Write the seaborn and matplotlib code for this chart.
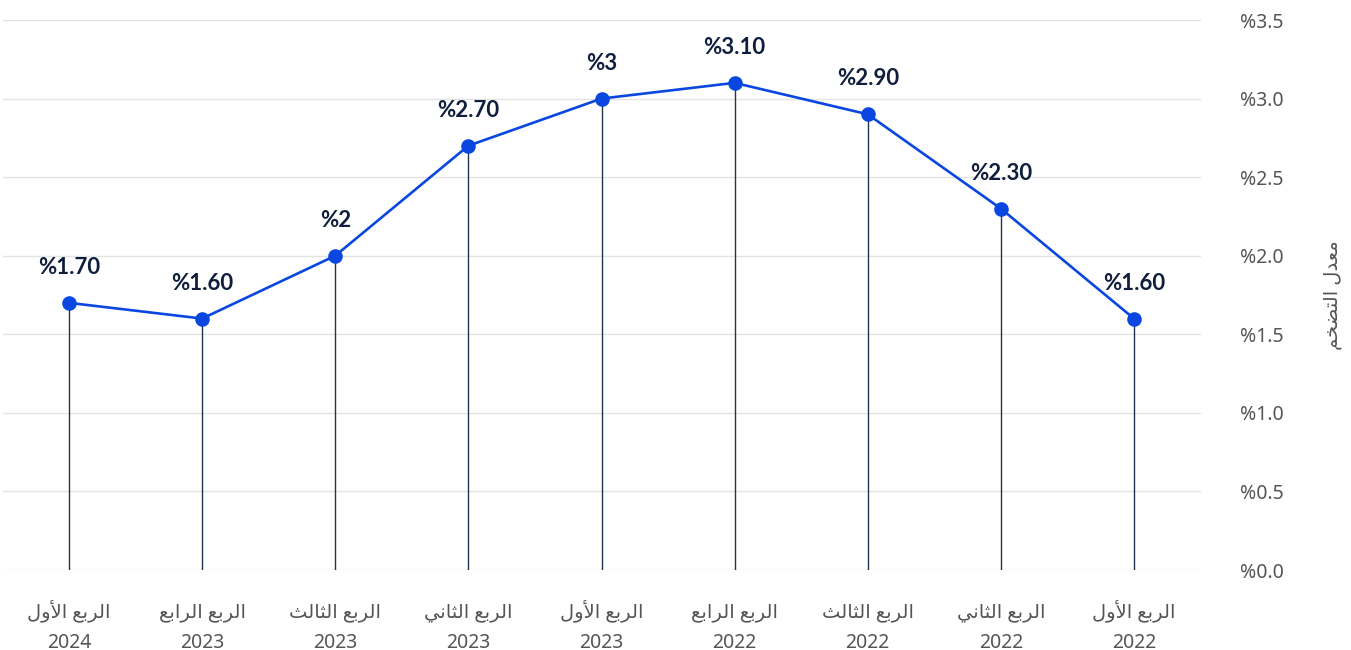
import numpy as np
import pandas as pd
import matplotlib
matplotlib.use("Agg")
import matplotlib.pyplot as plt
from matplotlib.ticker import FuncFormatter
import seaborn as sns

# ---------------- data ----------------
quarters = ["الربع الأول", "الربع الرابع", "الربع الثالث", "الربع الثاني",
            "الربع الأول", "الربع الرابع", "الربع الثالث", "الربع الثاني",
            "الربع الأول"]
years = ["2024", "2023", "2023", "2023", "2023", "2022", "2022", "2022", "2022"]
inflation = [1.70, 1.60, 2.00, 2.70, 3.00, 3.10, 2.90, 2.30, 1.60]
value_labels = ["%1.70", "%1.60", "%2", "%2.70", "%3", "%3.10", "%2.90", "%2.30", "%1.60"]
y_ticks = [0.0, 0.5, 1.0, 1.5, 2.0, 2.5, 3.0, 3.5]
y_title = "معدل التضخم"

# ------------- minimal Arabic shaping (matplotlib has no bidi/shaping) -------------
FORMS = {  # isolated, final, initial, medial
    'ا': ('\uFE8D', '\uFE8E', None, None),
    'أ': ('\uFE83', '\uFE84', None, None),
    'ل': ('\uFEDD', '\uFEDE', '\uFEDF', '\uFEE0'),
    'ر': ('\uFEAD', '\uFEAE', None, None),
    'ب': ('\uFE8F', '\uFE90', '\uFE91', '\uFE92'),
    'ع': ('\uFEC9', '\uFECA', '\uFECB', '\uFECC'),
    'و': ('\uFEED', '\uFEEE', None, None),
    'ث': ('\uFE99', '\uFE9A', '\uFE9B', '\uFE9C'),
    'ن': ('\uFEE5', '\uFEE6', '\uFEE7', '\uFEE8'),
    'ي': ('\uFEF1', '\uFEF2', '\uFEF3', '\uFEF4'),
    'م': ('\uFEE1', '\uFEE2', '\uFEE3', '\uFEE4'),
    'د': ('\uFEA9', '\uFEAA', None, None),
    'ت': ('\uFE95', '\uFE96', '\uFE97', '\uFE98'),
    'ض': ('\uFEBD', '\uFEBE', '\uFEBF', '\uFEC0'),
    'خ': ('\uFEA5', '\uFEA6', '\uFEA7', '\uFEA8'),
}
LAM_ALEF = {'ا': ('\uFEFB', '\uFEFC'), 'أ': ('\uFEF7', '\uFEF8')}


def shape(text):
    out = []
    i = 0
    n = len(text)
    while i < n:
        c = text[i]
        if c not in FORMS:
            out.append(c)
            i += 1
            continue
        prev = text[i - 1] if i > 0 else ''
        joins_prev = prev in FORMS and FORMS[prev][2] is not None
        if c == 'ل' and i + 1 < n and text[i + 1] in LAM_ALEF:
            iso, fin = LAM_ALEF[text[i + 1]]
            out.append(fin if joins_prev else iso)
            i += 2
            continue
        nxt = text[i + 1] if i + 1 < n else ''
        joins_next = FORMS[c][2] is not None and nxt in FORMS
        iso, fin, ini, med = FORMS[c]
        if joins_prev and joins_next:
            out.append(med)
        elif joins_prev:
            out.append(fin)
        elif joins_next:
            out.append(ini)
        else:
            out.append(iso)
        i += 1
    return ''.join(out)[::-1]


# ---------------- style ----------------
sns.set_theme(style="white")
plt.rcParams['font.family'] = ['Noto Sans', 'DejaVu Sans']

LINE_BLUE = "#0A47E0"
NAVY = "#0E1E3C"
STEM = "#24344E"
GRID = "#E3E3E3"
TICK_GREY = "#555555"

df = pd.DataFrame({"pos": np.arange(len(inflation)), "value": inflation})

fig = plt.figure(figsize=(13.51, 6.5), dpi=100)
ax = fig.add_axes([2.5 / 1351, 80 / 650, 1198 / 1351, 550 / 650])

# stems
ax.vlines(df["pos"], 0, df["value"], color=STEM, lw=1.0, zorder=2)

sns.lineplot(data=df, x="pos", y="value", ax=ax, color=LINE_BLUE, lw=1.9,
             marker="o", markersize=10.5, markeredgewidth=0,
             markerfacecolor=LINE_BLUE, zorder=3)

for x, v, lab in zip(df["pos"], df["value"], value_labels):
    ax.annotate(lab, (x, v), xytext=(0, 25.5), textcoords="offset points",
                ha="center", va="center", fontsize=16, fontweight="bold",
                color=NAVY, family=['Lato', 'DejaVu Sans'])

ax.set_xlim(-0.5, len(inflation) - 0.5)
ax.set_ylim(0, 3.5)
ax.set_yticks(y_ticks)
ax.yaxis.set_major_formatter(FuncFormatter(lambda v, p: f"%{v:.1f}"))
ax.yaxis.tick_right()
ax.yaxis.set_label_position("right")
ax.grid(axis="y", color=GRID, lw=1)
ax.grid(axis="x", visible=False)
for s in ax.spines.values():
    s.set_visible(False)

# quarter names (first line), aligned on a common baseline
ax.set_xticks(df["pos"])
ax.set_xticklabels([shape(q) for q in quarters], fontsize=14, color=TICK_GREY)
ax.tick_params(axis="x", length=0, pad=34)
for t in ax.get_xticklabels():
    t.set_verticalalignment("baseline")

# years (second line)
sec = ax.secondary_xaxis("bottom")
sec.set_xticks(df["pos"])
sec.set_xticklabels(years, fontsize=14, color=TICK_GREY)
sec.tick_params(axis="x", length=0, pad=45)
for s in sec.spines.values():
    s.set_visible(False)

ax.tick_params(axis="y", length=0, pad=60, labelsize=14, labelcolor=TICK_GREY)
for t in ax.get_yticklabels():
    t.set_horizontalalignment("right")

ax.set_xlabel("")
ax.set_ylabel(shape(y_title), fontsize=14, color=TICK_GREY, labelpad=28,
              rotation=90)

fig.savefig("out.png", dpi=100)
